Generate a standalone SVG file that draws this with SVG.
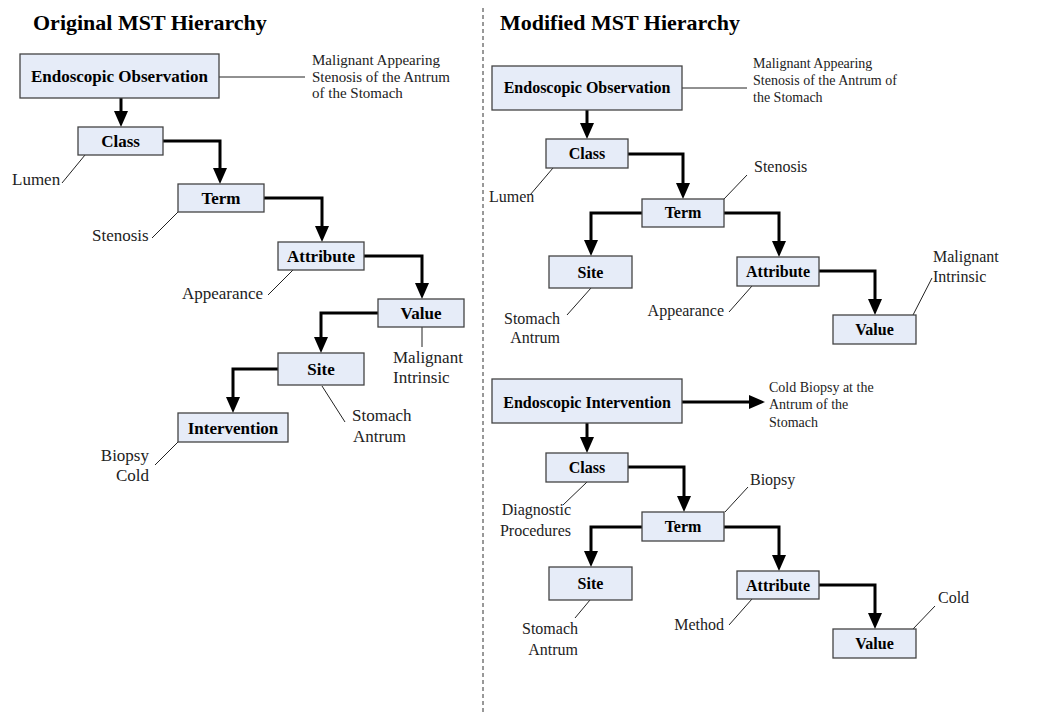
<svg xmlns="http://www.w3.org/2000/svg" width="1039" height="714" viewBox="0 0 1039 714">
<style>
.bg{fill:#ffffff}
.title{font-family:"Liberation Serif",serif;font-weight:bold;font-size:22px;fill:#000}
.box{fill:#e6ecf8;stroke:#444;stroke-width:1.3}
.bl{font-family:"Liberation Serif",serif;font-weight:bold;font-size:17px;fill:#000;text-anchor:middle}
.br{font-family:"Liberation Serif",serif;font-weight:bold;font-size:16px;fill:#000;text-anchor:middle}
.lbl{font-family:"Liberation Serif",serif;font-size:17px;fill:#222}
.lbr{font-family:"Liberation Serif",serif;font-size:16px;fill:#222}
.ann{font-family:"Liberation Serif",serif;font-size:15px;fill:#222}
.annr{font-family:"Liberation Serif",serif;font-size:14px;fill:#222}
.end{text-anchor:end}
.conn{fill:none;stroke:#000;stroke-width:3;marker-end:url(#ah)}
.lead{fill:none;stroke:#222;stroke-width:1}
.div{stroke:#333;stroke-width:1;stroke-dasharray:4,3}
</style>
<defs>
<marker id="ah" markerUnits="userSpaceOnUse" markerWidth="16" markerHeight="14" refX="8" refY="7" orient="auto" viewBox="0 0 16 14">
<path d="M0,0 L16,7 L0,14 z" fill="#000"/>
</marker>
</defs>
<rect class="bg" x="0" y="0" width="1039" height="714"/>
<line class="div" x1="483" y1="8" x2="483" y2="714"/>
<text class="title" x="33" y="30">Original MST Hierarchy</text>
<text class="title" x="500" y="30">Modified MST Hierarchy</text>

<g id="connectors">
<path class="conn" d="M121,98 V119"/>
<path class="conn" d="M163,141 H220 V176"/>
<path class="conn" d="M264,198 H322 V234"/>
<path class="conn" d="M364,256 H422 V291"/>
<path class="conn" d="M378,313 H321 V345"/>
<path class="conn" d="M278,369 H233 V405"/>
<path class="conn" d="M587,110 V131"/>
<path class="conn" d="M628,154 H683 V191"/>
<path class="conn" d="M642,213 H591 V248"/>
<path class="conn" d="M724,213 H779 V249"/>
<path class="conn" d="M819,271 H875 V307"/>
<path class="conn" d="M682,402 H757"/>
<path class="conn" d="M587,423 V445"/>
<path class="conn" d="M628,467 H684 V504"/>
<path class="conn" d="M642,527 H591 V559"/>
<path class="conn" d="M724,527 H779 V563"/>
<path class="conn" d="M819,585 H875 V621"/>
<line class="lead" x1="219" y1="77" x2="305" y2="77"/>
<line class="lead" x1="62" y1="183" x2="85" y2="155"/>
<line class="lead" x1="152" y1="238" x2="178" y2="212"/>
<line class="lead" x1="268" y1="295" x2="293" y2="270"/>
<line class="lead" x1="422" y1="327" x2="422" y2="347"/>
<line class="lead" x1="322" y1="386" x2="345" y2="422"/>
<line class="lead" x1="155" y1="465" x2="178" y2="442"/>
<line class="lead" x1="682" y1="88" x2="747" y2="88"/>
<line class="lead" x1="530" y1="195" x2="553" y2="168"/>
<line class="lead" x1="724" y1="199" x2="747" y2="175"/>
<line class="lead" x1="591" y1="288" x2="567" y2="315"/>
<line class="lead" x1="729" y1="312" x2="752" y2="286"/>
<line class="lead" x1="913" y1="315" x2="932" y2="278"/>
<line class="lead" x1="587" y1="482" x2="563" y2="505"/>
<line class="lead" x1="725" y1="512" x2="748" y2="487"/>
<line class="lead" x1="590" y1="600" x2="575" y2="618"/>
<line class="lead" x1="729" y1="625" x2="752" y2="599"/>
<line class="lead" x1="913" y1="629" x2="935" y2="606"/>
</g>

<g id="o-observation"><rect class="box" x="20" y="54" width="199" height="44"/><text class="bl" x="119.5" y="82">Endoscopic Observation</text></g>
<g id="o-class"><rect class="box" x="78" y="127" width="85" height="28"/><text class="bl" x="120.5" y="147">Class</text></g>
<g id="o-term"><rect class="box" x="178" y="184" width="86" height="28"/><text class="bl" x="221" y="204">Term</text></g>
<g id="o-attribute"><rect class="box" x="278" y="242" width="86" height="28"/><text class="bl" x="321" y="262">Attribute</text></g>
<g id="o-value"><rect class="box" x="378" y="299" width="86" height="28"/><text class="bl" x="421" y="319">Value</text></g>
<g id="o-site"><rect class="box" x="278" y="353" width="86" height="32"/><text class="bl" x="321" y="375">Site</text></g>
<g id="o-intervention"><rect class="box" x="178" y="413" width="110" height="29"/><text class="bl" x="233" y="434">Intervention</text></g>

<g id="o-labels">
<text class="ann" x="312" y="65">Malignant Appearing</text>
<text class="ann" x="312" y="82">Stenosis of the Antrum</text>
<text class="ann" x="312" y="98">of the Stomach</text>
<text class="lbl" x="12" y="185">Lumen</text>
<text class="lbl" x="92" y="241">Stenosis</text>
<text class="lbl" x="182" y="299">Appearance</text>
<text class="lbl" x="393" y="363">Malignant</text>
<text class="lbl" x="393" y="383">Intrinsic</text>
<text class="lbl" x="352" y="421">Stomach</text>
<text class="lbl" x="353" y="442">Antrum</text>
<text class="lbl end" x="149" y="461">Biopsy</text>
<text class="lbl end" x="149" y="481">Cold</text>
</g>

<g id="m-observation"><rect class="box" x="492" y="66" width="190" height="44"/><text class="br" x="587" y="93">Endoscopic Observation</text></g>
<g id="m-class1"><rect class="box" x="546" y="139" width="82" height="29"/><text class="br" x="587" y="159">Class</text></g>
<g id="m-term1"><rect class="box" x="642" y="199" width="82" height="28"/><text class="br" x="683" y="218">Term</text></g>
<g id="m-site1"><rect class="box" x="549" y="256" width="83" height="32"/><text class="br" x="590.5" y="278">Site</text></g>
<g id="m-attribute1"><rect class="box" x="737" y="257" width="82" height="29"/><text class="br" x="778" y="277">Attribute</text></g>
<g id="m-value1"><rect class="box" x="833" y="315" width="83" height="29"/><text class="br" x="874.5" y="335">Value</text></g>

<g id="m-intervention"><rect class="box" x="492" y="379" width="190" height="44"/><text class="br" x="587" y="408">Endoscopic Intervention</text></g>
<g id="m-class2"><rect class="box" x="546" y="453" width="82" height="29"/><text class="br" x="587" y="473">Class</text></g>
<g id="m-term2"><rect class="box" x="642" y="512" width="82" height="29"/><text class="br" x="683" y="532">Term</text></g>
<g id="m-site2"><rect class="box" x="549" y="567" width="83" height="33"/><text class="br" x="590.5" y="589">Site</text></g>
<g id="m-attribute2"><rect class="box" x="737" y="571" width="82" height="28"/><text class="br" x="778" y="591">Attribute</text></g>
<g id="m-value2"><rect class="box" x="833" y="629" width="83" height="29"/><text class="br" x="874.5" y="649">Value</text></g>

<g id="m-labels">
<text class="annr" x="753" y="68">Malignant Appearing</text>
<text class="annr" x="753" y="85">Stenosis of the Antrum of</text>
<text class="annr" x="753" y="102">the Stomach</text>
<text class="lbr" x="489" y="202">Lumen</text>
<text class="lbr" x="754" y="172">Stenosis</text>
<text class="lbr end" x="560" y="324">Stomach</text>
<text class="lbr end" x="560" y="343">Antrum</text>
<text class="lbr end" x="724" y="316">Appearance</text>
<text class="lbr" x="933" y="262">Malignant</text>
<text class="lbr" x="933" y="282">Intrinsic</text>
<text class="annr" x="769" y="392">Cold Biopsy at the</text>
<text class="annr" x="769" y="409">Antrum of the</text>
<text class="annr" x="769" y="427">Stomach</text>
<text class="lbr end" x="571" y="515">Diagnostic</text>
<text class="lbr end" x="571" y="536">Procedures</text>
<text class="lbr" x="750" y="485">Biopsy</text>
<text class="lbr end" x="578" y="634">Stomach</text>
<text class="lbr end" x="578" y="655">Antrum</text>
<text class="lbr end" x="724" y="630">Method</text>
<text class="lbr" x="938" y="603">Cold</text>
</g>
</svg>
